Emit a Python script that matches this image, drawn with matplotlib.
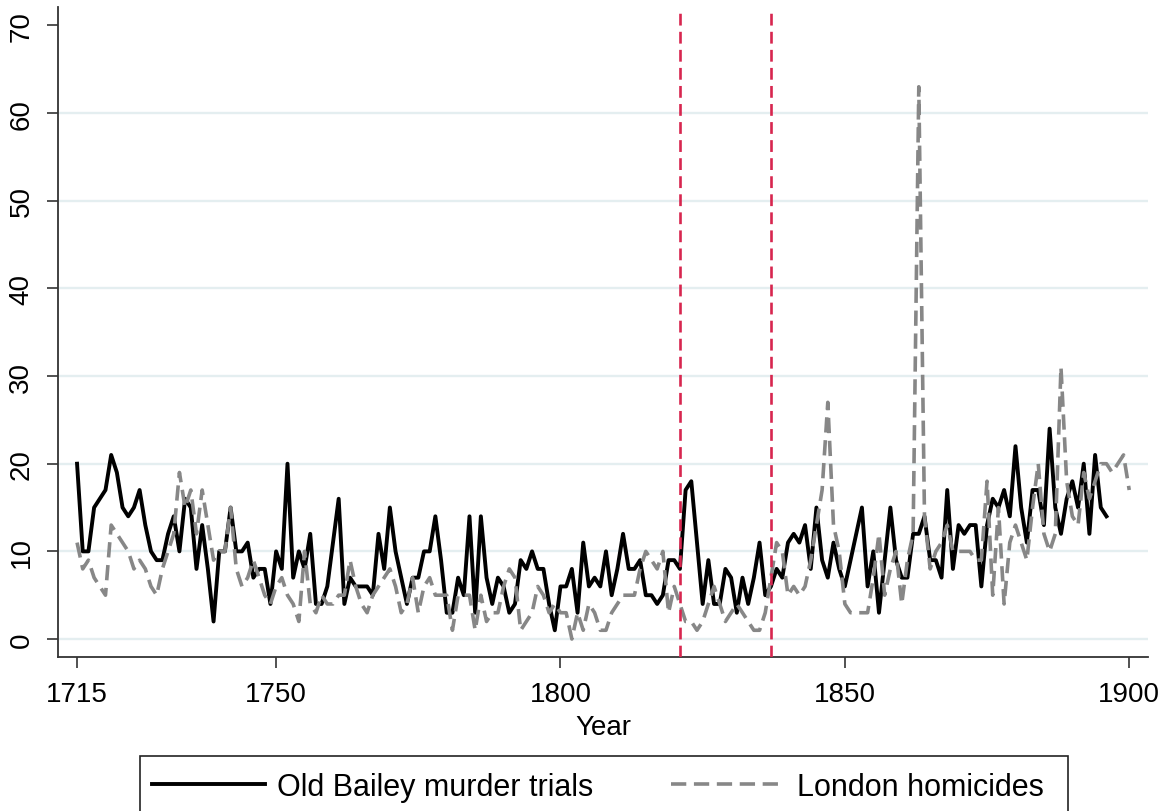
"""Old Bailey murder trials vs London homicides, 1715-1900
redrawn with matplotlib (Stata-like look)
"""
import numpy as np
import matplotlib
matplotlib.use("Agg")
import matplotlib.pyplot as plt
from matplotlib.lines import Line2D
from matplotlib.patches import Rectangle

# ---- data ---------------------------------------------------------------
bailey_start = 1715
old_bailey = [
    20, 10, 10, 15, 16, 17, 21, 19, 15, 14,   # 1715-1724
    15, 17, 13, 10, 9, 9, 12, 14, 10, 16,     # 1725-1734
    15, 8, 13, 8, 2, 10, 10, 15, 10, 10,      # 1735-1744
    11, 7, 8, 8, 4, 10, 8, 20, 7, 10,         # 1745-1754
    8, 12, 4, 4, 6, 11, 16, 4, 7, 6,          # 1755-1764
    6, 6, 5, 12, 8, 15, 10, 7, 4, 7,          # 1765-1774
    7, 10, 10, 14, 9, 3, 3, 7, 5, 14,         # 1775-1784
    3, 14, 7, 4, 7, 6, 3, 4, 9, 8,            # 1785-1794
    10, 8, 8, 4, 1, 6, 6, 8, 3, 11,           # 1795-1804
    6, 7, 6, 10, 5, 8, 12, 8, 8, 9,           # 1805-1814
    5, 5, 4, 5, 9, 9, 8, 17, 18, 11,          # 1815-1824
    4, 9, 4, 4, 8, 7, 3, 7, 4, 7,             # 1825-1834
    11, 5, 6, 8, 7, 11, 12, 11, 13, 8,        # 1835-1844
    15, 9, 7, 11, 8, 6, 9, 12, 15, 6,         # 1845-1854
    10, 3, 9, 15, 9, 7, 7, 12, 12, 14,        # 1855-1864
    9, 9, 7, 17, 8, 13, 12, 13, 13, 6,        # 1865-1874
    13, 16, 15, 17, 14, 22, 15, 11, 17, 17,   # 1875-1884
    13, 24, 15, 12, 16, 18, 15, 20, 12, 21,   # 1885-1894
    15, 14,                                   # 1895-1896
]

london_start = 1715
london = [
    11, 8, 9, 7, 6, 5, 13, 12, 11, 10,        # 1715-1724
    8, 9, 8, 6, 5, 8, 10, 12, 19, 15,         # 1725-1734
    17, 12, 17, 13, 9, 10, 10, 15, 8, 6,      # 1735-1744
    7, 9, 7, 5, 4, 6, 7, 5, 4, 2,             # 1745-1754
    10, 4, 3, 5, 4, 4, 5, 5, 9, 6,            # 1755-1764
    4, 3, 5, 6, 7, 8, 6, 3, 4, 7,             # 1765-1774
    3, 6, 7, 5, 5, 5, 1, 5, 5, 5,             # 1775-1784
    1, 5, 2, 3, 3, 6, 8, 7, 1, 2,             # 1785-1794
    3, 6, 5, 3, 4, 3, 3, 0, 3, 1,             # 1795-1804
    4, 3, 1, 1, 3, 4, 5, 5, 5, 8,             # 1805-1814
    10, 9, 8, 10, 3, 6, 4, 2, 2, 1,           # 1815-1824
    2, 4, 6, 4, 2, 3, 4, 3, 2, 1,             # 1825-1834
    1, 3, 7, 11, 10, 5, 6, 5, 6, 9,           # 1835-1844
    13, 17, 27, 13, 10, 4, 3, 3, 3, 3,        # 1845-1854
    7, 12, 5, 8, 10, 4, 9, 12, 63, 14,        # 1855-1864
    8, 10, 11, 13, 10, 10, 10, 10, 9, 9,      # 1865-1874
    18, 5, 15, 4, 11, 13, 11, 9, 15, 20,      # 1875-1884
    12, 10, 12, 31, 18, 14, 13, 19, 16, 18,   # 1885-1894
    20, 20, 19, 20, 21, 17,                   # 1895-1900
]

break_years = [1821, 1837]
x_ticks = [1715, 1750, 1800, 1850, 1900]
y_ticks = [0, 10, 20, 30, 40, 50, 60, 70]
labels = ["Old Bailey murder trials", "London homicides"]

bailey_years = np.arange(bailey_start, bailey_start + len(old_bailey))
london_years = np.arange(london_start, london_start + len(london))

# ---- figure -------------------------------------------------------------
plt.rcParams["font.family"] = ["Liberation Sans", "DejaVu Sans"]
plt.rcParams["lines.scale_dashes"] = False

fig = plt.figure(figsize=(11.71, 8.12), dpi=100)
ax = fig.add_axes([58 / 1171, 1 - 658 / 812, 1090 / 1171, 650 / 812])

grid_col = "#e4eef0"
for yv in y_ticks[:-1]:
    ax.axhline(yv, color=grid_col, lw=1.7, zorder=0)

black_lw = 2.8
gray_col = "#878787"
gray_dash = (11, 5.5)

ax.plot(bailey_years, old_bailey, color="black", lw=black_lw, zorder=3)
ax.plot(london_years, london, color=gray_col, lw=2.6, zorder=4,
        dashes=gray_dash)
for yr in break_years:
    ax.axvline(yr, color="#d7264f", lw=1.9, dashes=(8.5, 4.5), zorder=5)

ax.set_xlim(1711.65, 1903.3)
ax.set_ylim(-2.05, 72.1)
ax.set_xticks(x_ticks)
ax.set_yticks(y_ticks)

for side in ["top", "right"]:
    ax.spines[side].set_visible(False)
for side in ["left", "bottom"]:
    ax.spines[side].set_color("#333333")
    ax.spines[side].set_linewidth(1.3)

ax.tick_params(axis="both", direction="out", length=8, width=1.2,
               color="#333333", labelsize=20, pad=9)
ax.tick_params(axis="y", labelrotation=90)
for lab in ax.get_yticklabels():
    lab.set_va("center")

ax.set_xlabel("Year", fontsize=20, labelpad=5)

# legend below the plot, box runs off the bottom edge like the original
h1 = Line2D([], [], color="black", lw=black_lw)
h2 = Line2D([], [], color=gray_col, lw=2.6, dashes=gray_dash)
leg = fig.legend([h1, h2], labels, loc="center left",
                 bbox_to_anchor=(152 / 1171, 1 - 788 / 812),
                 ncol=2, frameon=False, fontsize=22, borderpad=0,
                 borderaxespad=0, handlelength=3.7, handletextpad=0.4,
                 columnspacing=2.55)
box = Rectangle((140 / 1171, -0.05), 928 / 1171, (812 - 757) / 812 + 0.05,
                transform=fig.transFigure, facecolor="white",
                edgecolor="#222222", lw=1.2, zorder=-1, clip_on=False)
fig.add_artist(box)

fig.savefig("out.png", dpi=100)
